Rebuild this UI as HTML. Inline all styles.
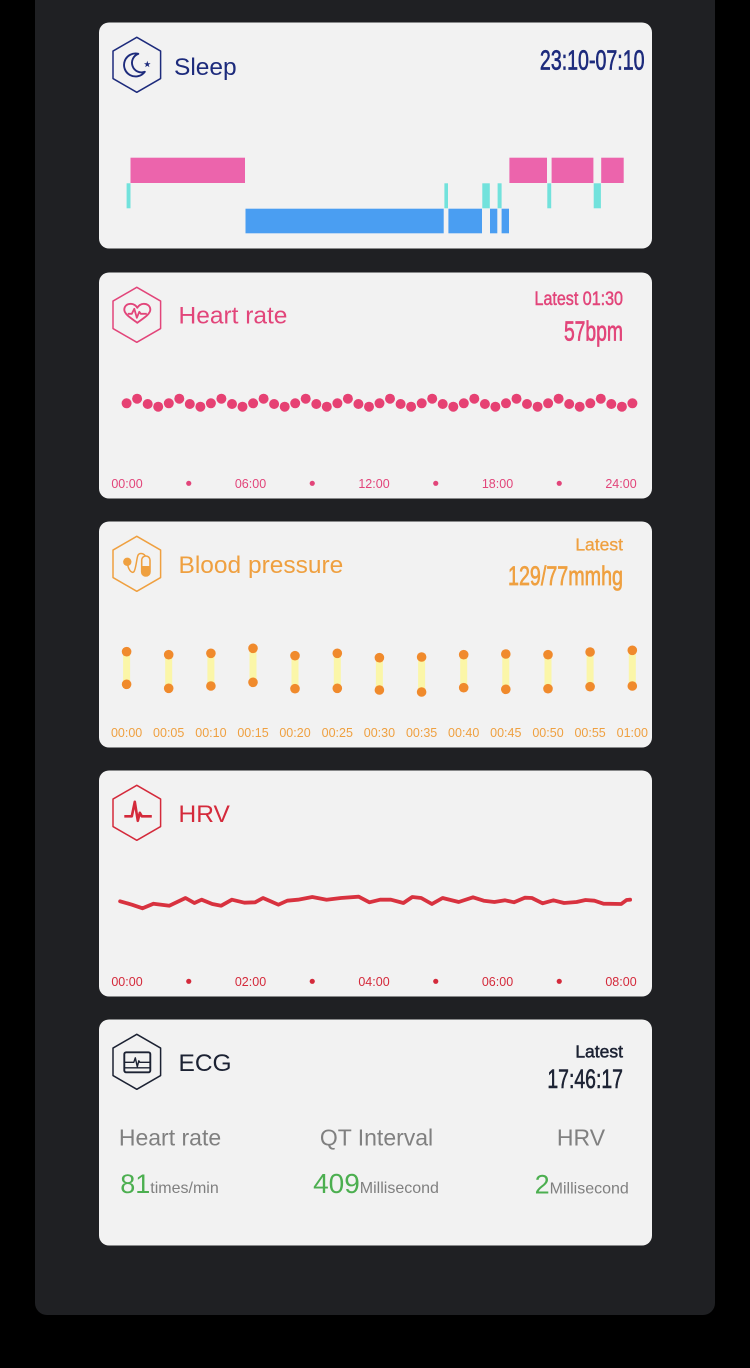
<!DOCTYPE html>
<html><head><meta charset="utf-8">
<style>
html,body{margin:0;padding:0;background:#000;}
body{width:750px;height:1368px;overflow:hidden;}
svg{display:block;}
text{font-family:"Liberation Sans",sans-serif;}
</style></head>
<body>
<svg width="750" height="1368" viewBox="0 0 750 1368" xmlns="http://www.w3.org/2000/svg">
<rect x="0" y="0" width="750" height="1368" fill="#000"/>
<rect x="35" y="-20" width="680" height="1335" rx="12" fill="#1f2023"/>

<!-- cards -->
<rect x="99" y="22.5" width="553" height="226" rx="10" fill="#f2f2f2"/>
<rect x="99" y="272.5" width="553" height="226" rx="10" fill="#f2f2f2"/>
<rect x="99" y="521.5" width="553" height="226" rx="10" fill="#f2f2f2"/>
<rect x="99" y="770.5" width="553" height="226" rx="10" fill="#f2f2f2"/>
<rect x="99" y="1019.5" width="553" height="226" rx="10" fill="#f2f2f2"/>

<!-- ============ SLEEP ============ -->
<g transform="translate(136.8,64.8)" fill="none" stroke="#1d2b7c" stroke-width="1.5" stroke-linejoin="round">
  <path d="M0 -27.5 L23.8 -13.75 L23.8 13.75 L0 27.5 L-23.8 13.75 L-23.8 -13.75 Z"/>
  <path d="M1.5 -11 A11.5 11.5 0 1 0 8 7 A9 9 0 0 1 1.5 -11 Z" stroke-width="1.9"/>
  <path d="M10.5 -4 L11.3 -1.6 L13.8 -1.6 L11.8 -0.1 L12.6 2.3 L10.5 0.9 L8.4 2.3 L9.2 -0.1 L7.2 -1.6 L9.7 -1.6 Z" fill="#1d2b7c" stroke="none"/>
</g>
<text x="174" y="75" font-size="24.5" fill="#1d2b7c">Sleep</text>
<text transform="translate(644.5,69.3) scale(0.70,1)" text-anchor="end" font-size="28" fill="#1d2b7c" stroke="#1d2b7c" stroke-width="0.7">23:10-07:10</text>

<g>
  <rect x="126.6" y="183.3" width="3.9" height="25" fill="#72e2dc"/>
  <rect x="130.5" y="157.7" width="114.5" height="25.3" fill="#ec64ac"/>
  <rect x="245.5" y="208.7" width="198.2" height="24.6" fill="#4a9ef2"/>
  <rect x="444.4" y="183.3" width="3.6" height="25" fill="#72e2dc"/>
  <rect x="448.4" y="208.7" width="33.6" height="24.6" fill="#4a9ef2"/>
  <rect x="482.3" y="183.3" width="7.5" height="25" fill="#72e2dc"/>
  <rect x="490" y="208.7" width="7.3" height="24.6" fill="#4a9ef2"/>
  <rect x="497.6" y="183.3" width="4" height="25" fill="#72e2dc"/>
  <rect x="501.6" y="208.7" width="7.4" height="24.6" fill="#4a9ef2"/>
  <rect x="509.4" y="157.7" width="37.6" height="25.3" fill="#ec64ac"/>
  <rect x="547.3" y="183.3" width="3.9" height="25" fill="#72e2dc"/>
  <rect x="551.6" y="157.7" width="41.8" height="25.3" fill="#ec64ac"/>
  <rect x="593.7" y="183.3" width="7.2" height="25" fill="#72e2dc"/>
  <rect x="601.2" y="157.7" width="22.5" height="25.3" fill="#ec64ac"/>
</g>

<!-- ============ HEART RATE ============ -->
<g transform="translate(136.8,314.8)" fill="none" stroke="#e2457a" stroke-width="1.5" stroke-linejoin="round">
  <path d="M0 -27.5 L23.8 -13.75 L23.8 13.75 L0 27.5 L-23.8 13.75 L-23.8 -13.75 Z"/>
  <path d="M0.5 8 C-3 5 -12.5 0 -12.5 -5 C-12.5 -9 -9.5 -11 -6 -11 C-3 -11 -0.5 -9 0.5 -7 C1.5 -9 4 -11 7 -11 C10.5 -11 13.5 -9 13.5 -5 C13.5 0 4 5 0.5 8 Z" stroke-width="1.9"/>
  <path d="M-9 -1 L-5 -1 L-2.5 -6 L0 3 L2.5 -3 L4 -1 L10 -1" stroke-width="1.8"/>
</g>
<text x="178.5" y="323.5" font-size="24.5" fill="#e2457a">Heart rate</text>
<text transform="translate(623,305) scale(0.825,1)" text-anchor="end" font-size="19.5" fill="#e2457a" stroke="#e2457a" stroke-width="0.5">Latest 01:30</text>
<text transform="translate(623,340.7) scale(0.69,1)" text-anchor="end" font-size="28" fill="#e2457a" stroke="#e2457a" stroke-width="0.7">57bpm</text>

<g fill="#e64173">
<circle cx="126.6" cy="403.3" r="5"/><circle cx="137.1" cy="398.7" r="5"/><circle cx="147.7" cy="404" r="5"/><circle cx="158.2" cy="406.7" r="5"/>
<circle cx="168.8" cy="403.3" r="5"/><circle cx="179.3" cy="398.7" r="5"/><circle cx="189.8" cy="404" r="5"/><circle cx="200.4" cy="406.7" r="5"/>
<circle cx="210.9" cy="403.3" r="5"/><circle cx="221.4" cy="398.7" r="5"/><circle cx="232.0" cy="404" r="5"/><circle cx="242.5" cy="406.7" r="5"/>
<circle cx="253.1" cy="403.3" r="5"/><circle cx="263.6" cy="398.7" r="5"/><circle cx="274.1" cy="404" r="5"/><circle cx="284.7" cy="406.7" r="5"/>
<circle cx="295.2" cy="403.3" r="5"/><circle cx="305.7" cy="398.7" r="5"/><circle cx="316.3" cy="404" r="5"/><circle cx="326.8" cy="406.7" r="5"/>
<circle cx="337.4" cy="403.3" r="5"/><circle cx="347.9" cy="398.7" r="5"/><circle cx="358.4" cy="404" r="5"/><circle cx="369.0" cy="406.7" r="5"/>
<circle cx="379.5" cy="403.3" r="5"/><circle cx="390.0" cy="398.7" r="5"/><circle cx="400.6" cy="404" r="5"/><circle cx="411.1" cy="406.7" r="5"/>
<circle cx="421.7" cy="403.3" r="5"/><circle cx="432.2" cy="398.7" r="5"/><circle cx="442.7" cy="404" r="5"/><circle cx="453.3" cy="406.7" r="5"/>
<circle cx="463.8" cy="403.3" r="5"/><circle cx="474.3" cy="398.7" r="5"/><circle cx="484.9" cy="404" r="5"/><circle cx="495.4" cy="406.7" r="5"/>
<circle cx="506.0" cy="403.3" r="5"/><circle cx="516.5" cy="398.7" r="5"/><circle cx="527.0" cy="404" r="5"/><circle cx="537.6" cy="406.7" r="5"/>
<circle cx="548.1" cy="403.3" r="5"/><circle cx="558.6" cy="398.7" r="5"/><circle cx="569.2" cy="404" r="5"/><circle cx="579.7" cy="406.7" r="5"/>
<circle cx="590.3" cy="403.3" r="5"/><circle cx="600.8" cy="398.7" r="5"/><circle cx="611.3" cy="404" r="5"/><circle cx="621.9" cy="406.7" r="5"/>
<circle cx="632.4" cy="403.3" r="5"/>
</g>
<g font-size="12.5" fill="#e2457a" text-anchor="middle">
  <text x="127" y="487.8">00:00</text>
  <text x="250.5" y="487.8">06:00</text>
  <text x="374" y="487.8">12:00</text>
  <text x="497.5" y="487.8">18:00</text>
  <text x="621" y="487.8">24:00</text>
</g>
<g fill="#e2457a">
  <circle cx="188.75" cy="483.3" r="2.6"/><circle cx="312.25" cy="483.3" r="2.6"/>
  <circle cx="435.75" cy="483.3" r="2.6"/><circle cx="559.25" cy="483.3" r="2.6"/>
</g>

<!-- ============ BLOOD PRESSURE ============ -->
<g transform="translate(136.8,563.8)" fill="none" stroke="#efa040" stroke-width="1.5" stroke-linejoin="round">
  <path d="M0 -27.5 L23.8 -13.75 L23.8 13.75 L0 27.5 L-23.8 13.75 L-23.8 -13.75 Z"/>
  <circle cx="-9.5" cy="-2" r="4.2" fill="#efa040" stroke="none"/>
  <path d="M-9.5 -2 C-9 6 -5 10 -3 8 C-1 6 0 -6 1 -8 C2 -11 6 -11 8.5 -8" stroke-width="1.5"/>
  <rect x="4.9" y="-7.8" width="8.3" height="20" rx="4.15" stroke-width="1.6"/>
  <path d="M4.9 2.2 L13.2 2.2 L13.2 8 A4.15 4.15 0 0 1 4.9 8 Z" fill="#efa040" stroke="none"/>
</g>
<text x="178.5" y="573" font-size="24.5" fill="#efa040">Blood pressure</text>
<text x="623" y="550.7" font-size="17.5" fill="#efa040" text-anchor="end" stroke="#efa040" stroke-width="0.3">Latest</text>
<text transform="translate(623,585) scale(0.73,1)" text-anchor="end" font-size="27" fill="#efa040" stroke="#efa040" stroke-width="0.7">129/77mmhg</text>

<g fill="#fbf6a8">
  <rect x="123.1" y="651.7" width="7" height="32.6"/>
  <rect x="165.2" y="654.7" width="7" height="33.6"/>
  <rect x="207.4" y="653.3" width="7" height="32.7"/>
  <rect x="249.5" y="648.3" width="7" height="34"/>
  <rect x="291.5" y="655.7" width="7" height="33"/>
  <rect x="333.8" y="653.3" width="7" height="35"/>
  <rect x="375.9" y="657.7" width="7" height="32.3"/>
  <rect x="418.1" y="657" width="7" height="35"/>
  <rect x="460.2" y="654.7" width="7" height="33"/>
  <rect x="502.3" y="654" width="7" height="35.3"/>
  <rect x="544.5" y="654.7" width="7" height="34"/>
  <rect x="586.6" y="652" width="7" height="34.7"/>
  <rect x="628.8" y="650.3" width="7" height="35.7"/>
</g>
<g fill="#f08a2c">
  <circle cx="126.6" cy="651.7" r="4.8"/><circle cx="126.6" cy="684.3" r="4.8"/>
  <circle cx="168.7" cy="654.7" r="4.8"/><circle cx="168.7" cy="688.3" r="4.8"/>
  <circle cx="210.9" cy="653.3" r="4.8"/><circle cx="210.9" cy="686" r="4.8"/>
  <circle cx="253" cy="648.3" r="4.8"/><circle cx="253" cy="682.3" r="4.8"/>
  <circle cx="295" cy="655.7" r="4.8"/><circle cx="295" cy="688.7" r="4.8"/>
  <circle cx="337.3" cy="653.3" r="4.8"/><circle cx="337.3" cy="688.3" r="4.8"/>
  <circle cx="379.4" cy="657.7" r="4.8"/><circle cx="379.4" cy="690" r="4.8"/>
  <circle cx="421.6" cy="657" r="4.8"/><circle cx="421.6" cy="692" r="4.8"/>
  <circle cx="463.7" cy="654.7" r="4.8"/><circle cx="463.7" cy="687.7" r="4.8"/>
  <circle cx="505.8" cy="654" r="4.8"/><circle cx="505.8" cy="689.3" r="4.8"/>
  <circle cx="548" cy="654.7" r="4.8"/><circle cx="548" cy="688.7" r="4.8"/>
  <circle cx="590.1" cy="652" r="4.8"/><circle cx="590.1" cy="686.7" r="4.8"/>
  <circle cx="632.3" cy="650.3" r="4.8"/><circle cx="632.3" cy="686" r="4.8"/>
</g>
<g font-size="12.5" fill="#efa040" text-anchor="middle">
  <text x="126.6" y="736.8">00:00</text>
  <text x="168.7" y="736.8">00:05</text>
  <text x="210.9" y="736.8">00:10</text>
  <text x="253" y="736.8">00:15</text>
  <text x="295" y="736.8">00:20</text>
  <text x="337.3" y="736.8">00:25</text>
  <text x="379.4" y="736.8">00:30</text>
  <text x="421.6" y="736.8">00:35</text>
  <text x="463.7" y="736.8">00:40</text>
  <text x="505.8" y="736.8">00:45</text>
  <text x="548" y="736.8">00:50</text>
  <text x="590.1" y="736.8">00:55</text>
  <text x="632.3" y="736.8">01:00</text>
</g>

<!-- ============ HRV ============ -->
<g transform="translate(136.8,812.8)" fill="none" stroke="#d42a3b" stroke-width="1.5" stroke-linejoin="round">
  <path d="M0 -27.5 L23.8 -13.75 L23.8 13.75 L0 27.5 L-23.8 13.75 L-23.8 -13.75 Z"/>
  <path d="M-12.5 3.5 L-5 3.5 L-2 -11 L1 8 L3 0 L5 3.5 L15 3.5" stroke-width="2.6"/>
</g>
<text x="178.5" y="822" font-size="24.5" fill="#d42a3b">HRV</text>
<polyline fill="none" stroke="#d8323f" stroke-width="3.8" stroke-linejoin="round" stroke-linecap="round"
 points="120.1,901.3 131.9,904.7 142.6,908.3 153.4,903.7 169.4,905.7 185.5,898 194.4,903 201.6,899.7 212.3,904 221.2,905.7 231.9,899.7 244.4,902.7 255.1,902.3 263,898 269.4,900.7 278.4,904.7 287.3,900.7 298,899.7 312.3,897 326.6,899.7 340.9,898 358.7,896.7 369.4,902.3 380.1,899.7 390.9,899.7 403.4,903 412.3,897 421.2,898 431.9,904 442.6,898 458.7,902 473,897.3 483.7,900.7 494.4,902 505.1,900.3 514.1,902.3 524.8,897.7 531.9,898 542.6,903.3 553.4,900.3 564.1,903 576.6,902 585.5,900 594.4,900.7 603.4,903.7 621.2,904 626.6,900 630.1,899.7"/>
<g font-size="12.5" fill="#d42a3b" text-anchor="middle">
  <text x="127" y="985.8">00:00</text>
  <text x="250.5" y="985.8">02:00</text>
  <text x="374" y="985.8">04:00</text>
  <text x="497.5" y="985.8">06:00</text>
  <text x="621" y="985.8">08:00</text>
</g>
<g fill="#d42a3b">
  <circle cx="188.75" cy="981.3" r="2.6"/><circle cx="312.25" cy="981.3" r="2.6"/>
  <circle cx="435.75" cy="981.3" r="2.6"/><circle cx="559.25" cy="981.3" r="2.6"/>
</g>

<!-- ============ ECG ============ -->
<g transform="translate(136.8,1061.8)" fill="none" stroke="#1c2233" stroke-width="1.5" stroke-linejoin="round">
  <path d="M0 -27.5 L23.8 -13.75 L23.8 13.75 L0 27.5 L-23.8 13.75 L-23.8 -13.75 Z"/>
  <rect x="-12.5" y="-9.5" width="26" height="20" rx="1.8" stroke-width="1.9"/>
  <path d="M-12.5 0.5 L-3 0.5 L-1.5 -4 L0.5 5 L2 -1 L3 0.5 L13.5 0.5" stroke-width="1.4"/>
  <path d="M-12.5 6 L13.5 6" stroke-width="1.4"/>
</g>
<text x="178.5" y="1071" font-size="24.5" fill="#1c2233">ECG</text>
<text x="623" y="1057.7" font-size="17.5" fill="#1c2233" text-anchor="end" stroke="#1c2233" stroke-width="0.5">Latest</text>
<text transform="translate(623,1088) scale(0.72,1)" text-anchor="end" font-size="27" fill="#1c2233" stroke="#1c2233" stroke-width="0.6">17:46:17</text>

<g font-size="23" fill="#808080" text-anchor="middle">
  <text x="170" y="1145.7">Heart rate</text>
  <text x="376.5" y="1145.7">QT Interval</text>
  <text x="581" y="1145.7">HRV</text>
</g>
<g text-anchor="middle">
  <text x="169.5" y="1193"><tspan font-size="27" fill="#4caf50">81</tspan><tspan font-size="16" fill="#808080">times/min</tspan></text>
  <text x="376" y="1193"><tspan font-size="28" fill="#4caf50">409</tspan><tspan font-size="16" fill="#808080">Millisecond</tspan></text>
  <text x="581.7" y="1193.5"><tspan font-size="27" fill="#4caf50">2</tspan><tspan font-size="16" fill="#808080">Millisecond</tspan></text>
</g>
</svg>
</body></html>
